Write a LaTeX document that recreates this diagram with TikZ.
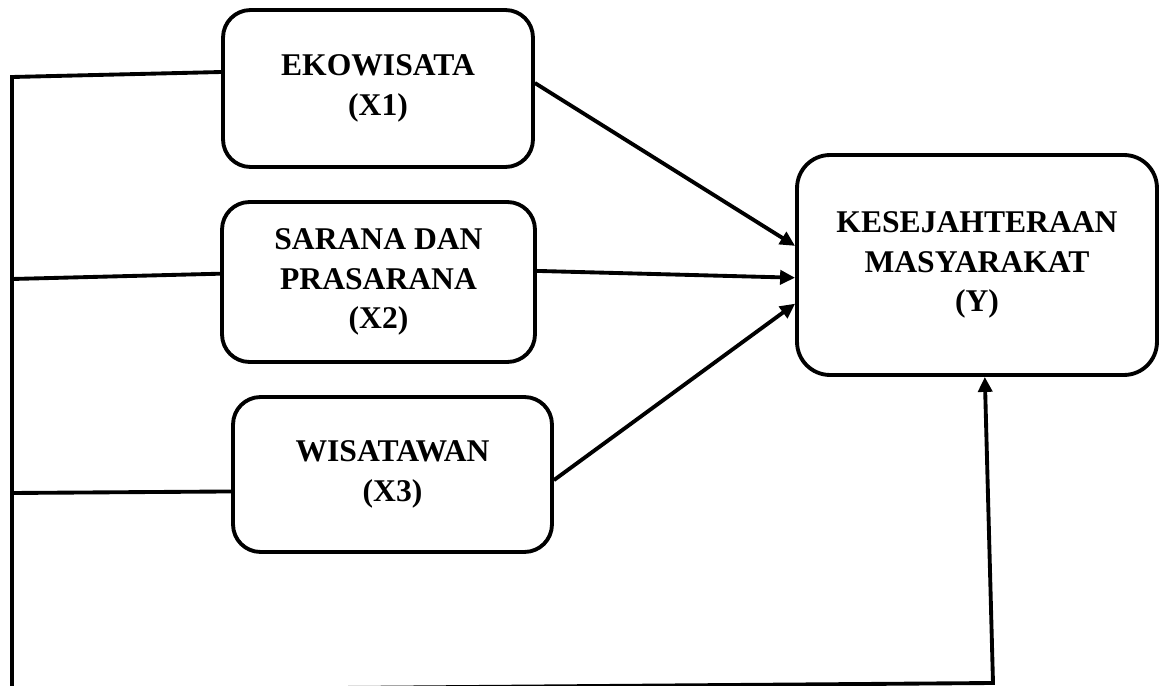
\documentclass[tikz,border=0pt]{standalone}
\usepackage{fontspec}
\setmainfont{Liberation Serif}
\usetikzlibrary{arrows.meta}

\begin{document}
\begin{tikzpicture}[x=0.02cm,y=-0.02cm,line width=2.2pt,
        box/.style = {draw, rounded corners=0.55cm, align=center, font=\bfseries\fontsize{18}{22.5}\selectfont,
                execute at begin node={\rule{0pt}{20pt}}},
        arr/.style = {-{Triangle[length=0.3cm,width=0.28cm]}}]
        \useasboundingbox (0,0) rectangle (1161,686);
        \node[box, minimum width=6.2cm, minimum height=3.14cm] (X1) at (378,88.5) {EKOWISATA\\(X1)};
        \node[box, minimum width=6.26cm, minimum height=3.2cm] (X2) at (378.5,282) {SARANA DAN\\PRASARANA\\(X2)};
        \node[box, minimum width=6.38cm, minimum height=3.1cm] (X3) at (392.5,474.5) {WISATAWAN\\(X3)};
        \node[box, rounded corners=0.66cm, minimum width=7.2cm, minimum height=4.4cm] (Y) at (977,265) {KESEJAHTERAAN\\MASYARAKAT\\(Y)};

        \coordinate (trunktop) at (12,77);
        \coordinate (trunk2) at (12,279);
        \coordinate (trunk3) at (12,493);
        \coordinate (trunkbot) at (12,690.5);
        \coordinate (corner) at (993,683);

        \draw (X1.174) -- (trunktop) -- (trunkbot);
        \draw (X2.177) -- (trunk2);
        \draw (X3.186.6) -- (trunk3);

        \draw[arr] (X1.2) -- (Y.174.5);
        \draw[arr] (X2.4.4) -- (Y.184.5);
        \draw[arr] (X3.358) -- (Y.192);
        \draw[arr] (trunkbot) -- (corner) -- (Y.274);
\end{tikzpicture}
\end{document}
